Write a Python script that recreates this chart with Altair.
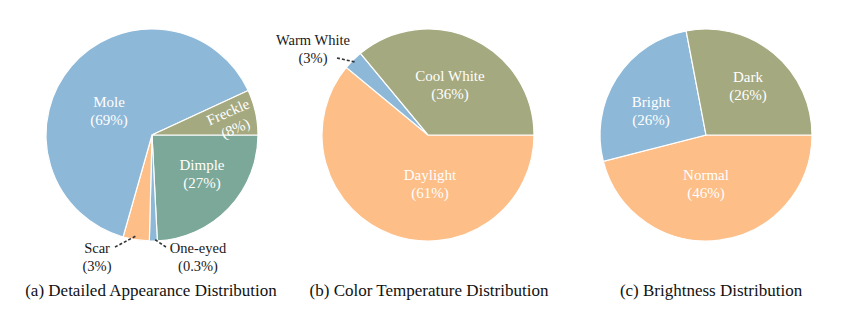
import math
import altair as alt
import pandas as pd

# ---------------- data ----------------
# slice shares as drawn in the picture, and the percentages printed on the labels
a_cats = ["Dimple", "One-eyed", "Scar", "Mole", "Freckle"]
a_share = [24.2, 1.2, 4.0, 63.7, 6.9]
a_pct = ["27", "0.3", "3", "69", "8"]
b_cats = ["Daylight", "Warm White", "Cool White"]
b_share = [61, 3, 36]
b_pct = ["61", "3", "36"]
c_cats = ["Normal", "Bright", "Dark"]
c_share = [46, 26, 28]
c_pct = ["46", "26", "26"]
captions = ["(a) Detailed Appearance Distribution",
            "(b) Color Temperature Distribution",
            "(c) Brightness Distribution"]

# ---------------- styles ----------------
BLUE, OLIVE, TEAL, PEACH = "#8DB8D8", "#A4A980", "#7BA898", "#FDBE87"
a_cols = [TEAL, BLUE, PEACH, BLUE, OLIVE]
b_cols = [PEACH, BLUE, OLIVE]
c_cols = [PEACH, BLUE, OLIVE]
FONT = "Liberation Serif, Times New Roman, serif"
M = 8  # page margin

# pie centers / radius (page px)
PIES = [
    dict(cats=a_cats, vals=a_share, pct=a_pct, cols=a_cols, cx=152, cy=135, r=106),
    dict(cats=b_cats, vals=b_share, pct=b_pct, cols=b_cols, cx=428, cy=135, r=106),
    dict(cats=c_cats, vals=c_share, pct=c_pct, cols=c_cols, cx=706, cy=135, r=106),
]
CAPTION_POS = [(151, 291), (429, 291), (711, 291)]

# label placement (page px, first line): name -> (x, y, angle, inside)
LABEL_POS = {
    "Mole": (109, 102, 0, True),
    "Dimple": (202, 164.5, 0, True),
    "Freckle": (228, 112, 336, True),
    "Scar": (97, 249, 0, False),
    "One-eyed": (198, 249, 0, False),
    "Daylight": (430, 175, 0, True),
    "Cool White": (450, 76, 0, True),
    "Warm White": (313, 41, 0, False),
    "Normal": (706, 175, 0, True),
    "Bright": (651, 102, 0, True),
    "Dark": (748, 76.5, 0, True),
}
LEADERS = [  # (x1, y1, x2, y2) page px
    (115, 247, 136, 236),
    (166, 247, 154, 239),
    (337, 58, 355, 62),
]

layers = []
for p in PIES:
    df = pd.DataFrame({"cat": p["cats"], "val": p["vals"], "color": p["cols"],
                       "idx": list(range(len(p["cats"])))})
    arc = alt.Chart(df).mark_arc(outerRadius=p["r"], stroke="white", strokeWidth=1.2).encode(
        theta=alt.Theta("val:Q", stack=True,
                        scale=alt.Scale(range=[math.pi / 2, math.pi / 2 + 2 * math.pi])),
        color=alt.Color("color:N", scale=None),
        order=alt.Order("idx:Q"),
        x=alt.value(p["cx"] - M),
        y=alt.value(p["cy"] - M),
    )
    layers.append(arc)

    for cat, pct in zip(p["cats"], p["pct"]):
        x, y, ang, inside = LABEL_POS[cat]
        txt = f"{cat}\n({pct}%)"
        t = alt.Chart(pd.DataFrame({"label": [txt]})).mark_text(
            font=FONT, fontSize=15 if inside else 14.5,
            color="white" if inside else "#1a1a1a",
            align="center", baseline="middle", lineBreak="\n", lineHeight=18,
            angle=ang,
        ).encode(text="label:N", x=alt.value(x - M), y=alt.value(y - M))
        layers.append(t)

for (x1, y1, x2, y2) in LEADERS:
    r = alt.Chart(pd.DataFrame({"k": [0]})).mark_rule(
        color="#333333", strokeWidth=1.6, strokeDash=[3, 2]
    ).encode(x=alt.value(x1 - M), y=alt.value(y1 - M),
             x2=alt.value(x2 - M), y2=alt.value(y2 - M))
    layers.append(r)

for cap, (x, y) in zip(captions, CAPTION_POS):
    t = alt.Chart(pd.DataFrame({"label": [cap]})).mark_text(
        font=FONT, fontSize=17, color="#111111", align="center", baseline="middle"
    ).encode(text="label:N", x=alt.value(x - M), y=alt.value(y - M))
    layers.append(t)

chart = alt.layer(*layers).resolve_scale(theta="independent").properties(
    width=840, height=294, padding=0, autosize="none"
).configure_view(stroke=None)

chart.save("out.html", embed_options={"renderer": "svg", "actions": False})
